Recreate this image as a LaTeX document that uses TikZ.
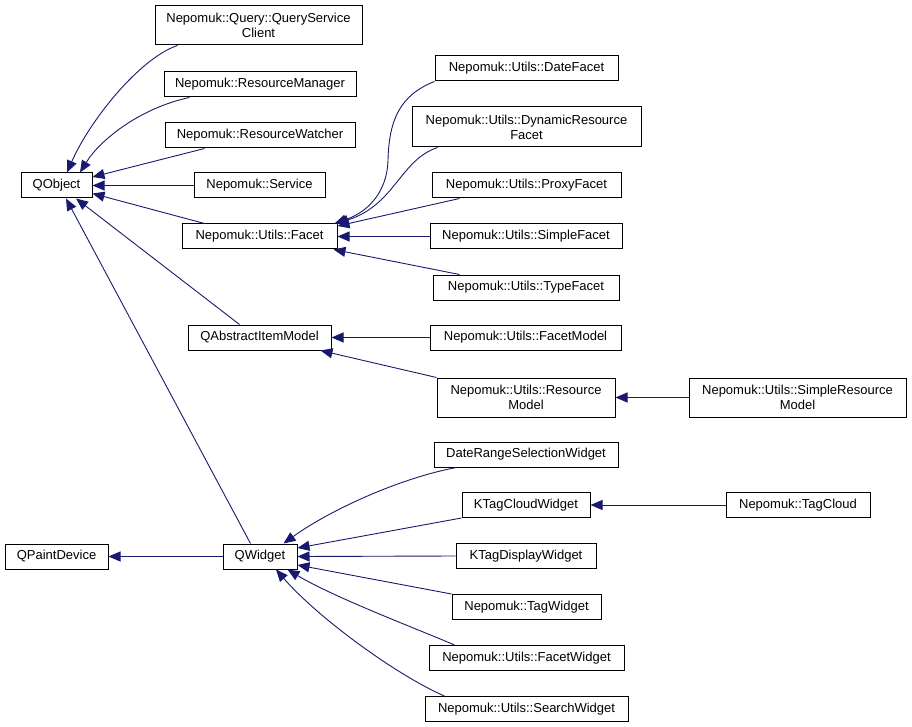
\documentclass[tikz,border=0pt]{standalone}
\usepackage{fontspec}
\setmainfont{Liberation Sans}
\usetikzlibrary{arrows.meta,calc}
\definecolor{navy}{HTML}{191970}
\begin{document}
\begin{tikzpicture}[x=1pt,y=-1pt,
  cls/.style={draw=black, line width=1pt, fill=white, rectangle, inner sep=0pt, align=center, font=\fontsize{13}{15}\selectfont},
  inh/.style={draw=navy, line width=0.9pt, -{Triangle[length=12pt,width=10pt]}}]
\useasboundingbox[fill=white] (0,0) rectangle (912,727);
% left column
\node[cls, minimum width=71pt, minimum height=25pt] (qobj) at (56.5,185.5) {QObject};
\node[cls, minimum width=103pt, minimum height=25pt] (qpd) at (56.5,556.5) {QPaintDevice};
% middle column
\node[cls, minimum width=207pt, minimum height=39pt] (qsc) at (258.5,25.5) {Nepomuk::Query::QueryService\\Client};
\node[cls, minimum width=192pt, minimum height=25pt] (rm) at (260,84.5) {Nepomuk::ResourceManager};
\node[cls, minimum width=190pt, minimum height=25pt] (rw) at (260,135.5) {Nepomuk::ResourceWatcher};
\node[cls, minimum width=131pt, minimum height=25pt] (svc) at (259.5,185.5) {Nepomuk::Service};
\node[cls, minimum width=155pt, minimum height=25pt] (facet) at (259.5,236.5) {Nepomuk::Utils::Facet};
\node[cls, minimum width=143pt, minimum height=25pt] (qaim) at (259.5,337.5) {QAbstractItemModel};
\node[cls, minimum width=74pt, minimum height=25pt] (qwidget) at (260,556.5) {QWidget};
% right column
\node[cls, minimum width=183pt, minimum height=25pt] (datef) at (526.5,68.5) {Nepomuk::Utils::DateFacet};
\node[cls, minimum width=229pt, minimum height=40pt] (dynf) at (526.5,127) {Nepomuk::Utils::DynamicResource\\Facet};
\node[cls, minimum width=189pt, minimum height=25pt] (proxy) at (526.5,185.5) {Nepomuk::Utils::ProxyFacet};
\node[cls, minimum width=192pt, minimum height=25pt] (simplef) at (526,236.5) {Nepomuk::Utils::SimpleFacet};
\node[cls, minimum width=186pt, minimum height=25pt] (typef) at (526,287.5) {Nepomuk::Utils::TypeFacet};
\node[cls, minimum width=191pt, minimum height=25pt] (fmodel) at (525.5,337.5) {Nepomuk::Utils::FacetModel};
\node[cls, minimum width=178pt, minimum height=39pt] (rmodel) at (526,397.5) {Nepomuk::Utils::Resource\\Model};
\node[cls, minimum width=184pt, minimum height=25pt] (drsw) at (526,454.5) {DateRangeSelectionWidget};
\node[cls, minimum width=128pt, minimum height=25pt] (ktcw) at (526,505) {KTagCloudWidget};
\node[cls, minimum width=140pt, minimum height=25pt] (ktdw) at (526,556) {KTagDisplayWidget};
\node[cls, minimum width=149pt, minimum height=25pt] (tagw) at (526.5,607) {Nepomuk::TagWidget};
\node[cls, minimum width=195pt, minimum height=25pt] (facetw) at (526.5,658) {Nepomuk::Utils::FacetWidget};
\node[cls, minimum width=203pt, minimum height=25pt] (searchw) at (526.5,709) {Nepomuk::Utils::SearchWidget};
% far right
\node[cls, minimum width=217pt, minimum height=39pt] (srmodel) at (797.5,397.5) {Nepomuk::Utils::SimpleResource\\Model};
\node[cls, minimum width=144pt, minimum height=25pt] (tagcloud) at (798,505) {Nepomuk::TagCloud};

% edges to QObject
\draw[inh] ($(qsc.south west)+(23,0)$) .. controls (140,58) and (90,120) .. ($(qobj.north)+(10.5,0)$);
\draw[inh] ($(rm.south west)+(26,0)$) .. controls (140,108) and (100,140) .. ($(qobj.north)+(23.5,0)$);
\draw[inh] ($(rw.south west)+(40,0)$) -- ($(qobj.east)+(0,-8.5)$);
\draw[inh] (svc.west) -- (qobj.east);
\draw[inh] ($(facet.north west)+(23,0)$) -- ($(qobj.east)+(0,8)$);
\draw[inh] ($(qaim.north west)+(52,0)$) -- ($(qobj.south)+(19.5,0)$);
\draw[inh] ($(qwidget.north west)+(28,0)$) -- ($(qobj.south)+(9.5,0)$);
% edges to Facet
\draw[inh] (datef.south west) .. controls (400,95) and (389,120) .. (388,160) .. controls (387,195) and (365,213) .. ($(facet.north east)+(-3,0)$);
\draw[inh] ($(dynf.south west)+(26,0)$) .. controls (400,160) and (395,205) .. ($(facet.north east)+(-1,0)$);
\draw[inh] ($(proxy.south west)+(28,0)$) -- ($(facet.east)+(0,-10.5)$);
\draw[inh] (simplef.west) -- (facet.east);
\draw[inh] ($(typef.north west)+(27,0)$) -- ($(facet.south east)+(-4,0)$);
% edges to QAbstractItemModel
\draw[inh] (fmodel.west) -- (qaim.east);
\draw[inh] (rmodel.north west) -- ($(qaim.south east)+(-11,0)$);
\draw[inh] (srmodel.west) -- (rmodel.east);
% QPaintDevice
\draw[inh] (qwidget.west) -- (qpd.east);
% edges to QWidget
\draw[inh] ($(drsw.south west)+(23,0)$) .. controls (400,478) and (330,510) .. ($(qwidget.north east)+(-14,0)$);
\draw[inh] (ktcw.south west) -- ($(qwidget.east)+(0,-8.5)$);
\draw[inh] (tagcloud.west) -- (ktcw.east);
\draw[inh] (ktdw.west) -- (qwidget.east);
\draw[inh] (tagw.north west) -- ($(qwidget.east)+(0,8.5)$);
\draw[inh] ($(facetw.north west)+(26,0)$) .. controls (420,630) and (335,598) .. ($(qwidget.south east)+(-10,0)$);
\draw[inh] ($(searchw.north west)+(20,0)$) .. controls (400,677) and (320,620) .. ($(qwidget.south)+(16,0)$);
\end{tikzpicture}
\end{document}
